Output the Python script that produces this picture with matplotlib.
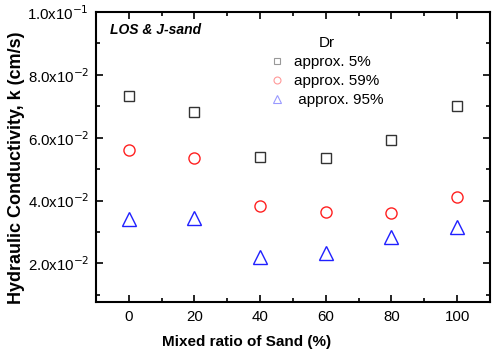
import math
import matplotlib
matplotlib.use("Agg")
import matplotlib.pyplot as plt
from matplotlib.lines import Line2D
from matplotlib.ticker import MultipleLocator, FuncFormatter

plt.rcParams['font.family'] = ['Liberation Sans', 'DejaVu Sans']

mix_ratio = [0, 20, 40, 60, 80, 100]
k_dr5 = [0.0733, 0.0682, 0.0538, 0.0535, 0.0592, 0.0702]
k_dr59 = [0.0560, 0.0535, 0.0382, 0.0363, 0.0360, 0.0411]
k_dr95 = [0.0340, 0.0344, 0.0221, 0.0232, 0.0283, 0.0315]
labels = ["approx. 5%", "approx. 59%", " approx. 95%"]

W, H = 492, 356
fig = plt.figure(figsize=(W / 100, H / 100), dpi=100)
ax = fig.add_axes([96 / W, 1 - 301.7 / H, 394 / W, 289.7 / H])

ax.plot(mix_ratio, k_dr5, linestyle='none', marker='s', ms=7.5, mfc='none', mec='#333333', mew=1.0)
ax.plot(mix_ratio, k_dr59, linestyle='none', marker='o', ms=8, mfc='none', mec='#ff2020', mew=1.0)
ax.plot(mix_ratio, k_dr95, linestyle='none', marker='^', ms=9.5, mfc='none', mec='#2020ff', mew=1.0)

ax.set_xlim(-10, 110)
ax.set_ylim(0.0078, 0.1)
ax.xaxis.set_major_locator(MultipleLocator(20))
ax.xaxis.set_minor_locator(MultipleLocator(10))
ax.yaxis.set_major_locator(MultipleLocator(0.02))
ax.yaxis.set_minor_locator(MultipleLocator(0.01))

def fmt(v, pos):
    if v <= 0:
        return ''
    e = int(math.floor(math.log10(v) + 1e-9))
    m = v / 10 ** e
    return r"%.1fx10$^{%d}$" % (m, e)

ax.yaxis.set_major_formatter(FuncFormatter(fmt))
ax.tick_params(which='both', direction='in', top=True, right=True, width=1.2, labelsize=10.8)
ax.tick_params(which='major', length=5)
ax.tick_params(which='minor', length=3)
ax.tick_params(axis='x', pad=6)
ax.tick_params(axis='y', pad=5)
for s in ax.spines.values():
    s.set_linewidth(1.5)

fig.text(246.5 / W, 1 - 342 / H, "Mixed ratio of Sand (%)", fontsize=11, fontweight='bold',
         ha='center', va='center')
fig.text(17 / W, 1 - 168 / H, "Hydraulic Conductivity, k (cm/s)", fontsize=13, fontweight='bold',
         ha='center', va='center', rotation=90)

ax.text(0.035, (301.7 - 30) / 289.7, "LOS & J-sand", transform=ax.transAxes, fontsize=10,
        fontweight='bold', fontstyle='italic', va='center')

handles = [
    Line2D([], [], linestyle='none', marker='s', ms=4.5, mfc='none', mec='#999999', mew=0.8),
    Line2D([], [], linestyle='none', marker='o', ms=5, mfc='none', mec='#ff9999', mew=0.8),
    Line2D([], [], linestyle='none', marker='^', ms=5.5, mfc='none', mec='#9999ff', mew=0.8),
]
leg = ax.legend(handles, labels, title="Dr", loc='upper left', bbox_to_anchor=(0.414, 0.955),
                frameon=False, fontsize=11, title_fontsize=11, handlelength=1.0,
                handletextpad=0.6, labelspacing=0.34, borderpad=0.2)

fig.savefig("out.png", dpi=100)
